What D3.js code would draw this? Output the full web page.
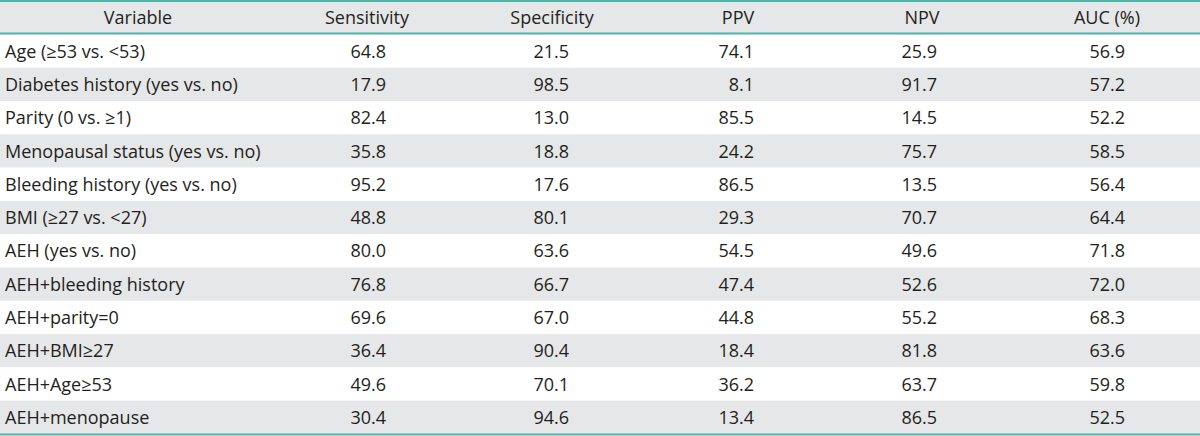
<!DOCTYPE html>
<html><head><meta charset="utf-8">
<script src="https://cdn.jsdelivr.net/npm/d3@7"></script>
<style>html,body{margin:0;padding:0;background:#fff}</style>
</head><body>
<svg id="t" width="1200" height="436"></svg>
<script>
const columns = ["Variable","Sensitivity","Specificity","PPV","NPV","AUC (%)"];
const variables = ["Age (\u226553 vs. <53)","Diabetes history (yes vs. no)","Parity (0 vs. \u22651)","Menopausal status (yes vs. no)","Bleeding history (yes vs. no)","BMI (\u226527 vs. <27)","AEH (yes vs. no)","AEH+bleeding history","AEH+parity=0","AEH+BMI\u226527","AEH+Age\u226553","AEH+menopause"];
const sensitivity = ["64.8","17.9","82.4","35.8","95.2","48.8","80.0","76.8","69.6","36.4","49.6","30.4"];
const specificity = ["21.5","98.5","13.0","18.8","17.6","80.1","63.6","66.7","67.0","90.4","70.1","94.6"];
const ppv = ["74.1","8.1","85.5","24.2","86.5","29.3","54.5","47.4","44.8","18.4","36.2","13.4"];
const npv = ["25.9","91.7","14.5","75.7","13.5","70.7","49.6","52.6","55.2","81.8","63.7","86.5"];
const auc = ["56.9","57.2","52.2","58.5","56.4","64.4","71.8","72.0","68.3","63.6","59.8","52.5"];

const valueCols = [sensitivity, specificity, ppv, npv, auc];
const headerCenters = [138, 367, 552, 738, 922, 1107];
const numRight = [386, 569, 754, 937, 1125];

const svg = d3.select("#t");
const font = "'Open Sans', sans-serif";
const fs = 18;
const teal = "#4fb5aa", gray = "#e6e7e8", ink = "#231f20";

const y = d3.scaleBand().domain(d3.range(variables.length)).range([34.5, 434]);

// header background
svg.append("rect").attr("x",0).attr("y",1).attr("width",1200).attr("height",33).attr("fill",gray);
// stripes
svg.selectAll("rect.row").data(d3.range(variables.length)).enter().append("rect")
  .attr("class","row").attr("x",0).attr("y",i=>y(i)).attr("width",1200).attr("height",y.bandwidth())
  .attr("fill",i=> i%2===1 ? gray : "#fff");

// header text
svg.selectAll("text.h").data(columns).enter().append("text")
  .attr("class","h").attr("x",(d,i)=>headerCenters[i]).attr("y",17.5).attr("dy","0.36em")
  .attr("text-anchor","middle").attr("font-family",font).attr("font-size",fs).attr("fill",ink).text(d=>d);

// variable names
svg.selectAll("text.v").data(variables).enter().append("text")
  .attr("class","v").attr("x",5).attr("y",(d,i)=>y(i)+y.bandwidth()/2).attr("dy","0.36em")
  .attr("font-family",font).attr("font-size",fs).attr("fill",ink).text(d=>d);

// values
valueCols.forEach((col,c)=>{
  svg.selectAll("text.c"+c).data(col).enter().append("text")
    .attr("class","c"+c).attr("x",numRight[c]).attr("y",(d,i)=>y(i)+y.bandwidth()/2).attr("dy","0.36em")
    .attr("text-anchor","end").attr("font-family",font).attr("font-size",fs).attr("fill",ink).text(d=>d);
});

// rules
[1, 33.5, 434.5].forEach(v=>{
  svg.append("line").attr("x1",0).attr("x2",1200).attr("y1",v).attr("y2",v).attr("stroke",teal).attr("stroke-width",2);
});
</script>
</body></html>
